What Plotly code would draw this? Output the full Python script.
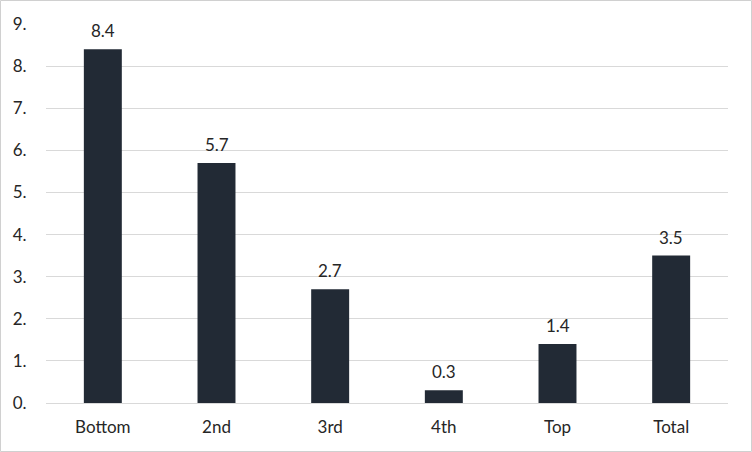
import plotly.graph_objects as go

categories = ["Bottom", "2nd", "3rd", "4th", "Top", "Total"]
values = [8.4, 5.7, 2.7, 0.3, 1.4, 3.5]
tick_vals = [0, 1, 2, 3, 4, 5, 6, 7, 8, 9]
tick_text = ["0.", "1.", "2.", "3.", "4.", "5.", "6.", "7.", "8.", "9."]

W, H = 752, 452
ml, mr, mt, mb = 46, 24, 24, 49
pw, ph = W - ml - mr, H - mt - mb

font = "Lato, 'Open Sans', sans-serif"
fsize = 17

fig = go.Figure(go.Bar(
    x=categories, y=values,
    marker=dict(color="#222a35", line=dict(width=0)),
    cliponaxis=False,
))

for c, v in zip(categories, values):
    fig.add_annotation(x=c, y=v, text=f"{v:.1f}", showarrow=False,
                       yanchor="bottom", yshift=6,
                       font=dict(family=font, size=fsize, color="#262626"))

fig.update_layout(
    width=W, height=H,
    margin=dict(l=ml, r=mr, t=mt, b=mb, autoexpand=False),
    paper_bgcolor="white", plot_bgcolor="white",
    bargap=0.666,
    showlegend=False,
    font=dict(family=font, size=fsize, color="#262626"),
    xaxis=dict(showgrid=False, showline=False, ticks="outside", ticklen=9,
               tickcolor="rgba(0,0,0,0)", tickfont=dict(size=fsize),
               automargin=False),
    yaxis=dict(range=[0, 9], tickvals=tick_vals, ticktext=tick_text,
               showgrid=True, gridcolor="#d9d9d9", gridwidth=1,
               zeroline=True, zerolinecolor="#d9d9d9", zerolinewidth=1,
               showline=False, ticks="outside", ticklen=15,
               tickcolor="rgba(0,0,0,0)", tickfont=dict(size=fsize),
               automargin=False),
    shapes=[dict(type="rect", xref="paper", yref="paper",
                 x0=(-ml + 0.5) / pw, x1=1 + (mr - 0.5) / pw,
                 y0=(-mb + 0.5) / ph, y1=1 + (mt - 0.5) / ph,
                 line=dict(color="#d0d0d0", width=1))],
)

fig.write_html("out.html",
               config={"displayModeBar": False},
               post_script="document.body.style.margin='0';document.body.style.overflow='hidden';")
